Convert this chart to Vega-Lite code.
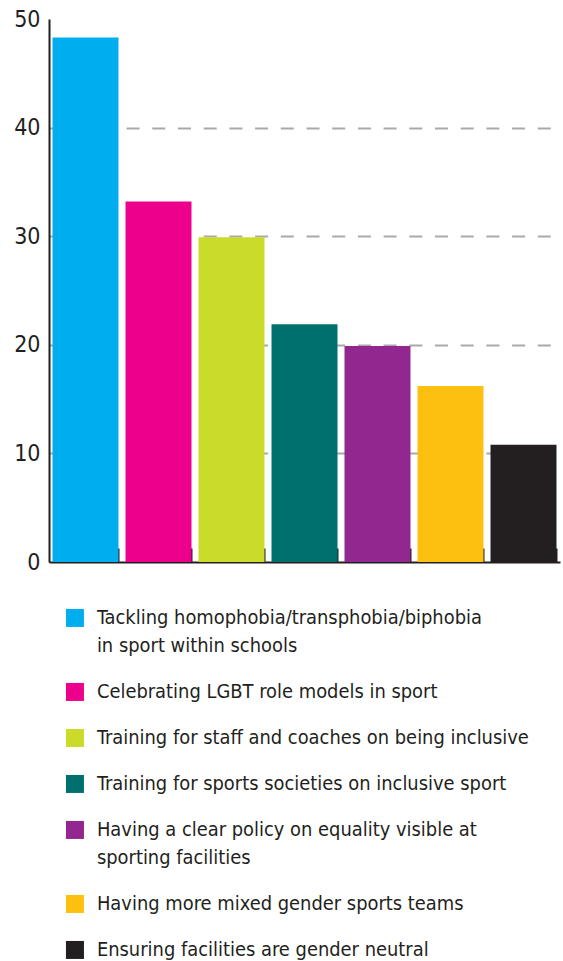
{
  "$schema": "https://vega.github.io/schema/vega-lite/v6.json",
  "autosize": {"type": "none"},
  "width": 511,
  "height": 543,
  "padding": {"left": 49, "top": 19, "right": 3, "bottom": 399},
  "background": "white",
  "config": {
    "view": {"stroke": null},
    "font": "DejaVu Sans Condensed, Liberation Sans Narrow, sans-serif",
    "style": {"guide-label": {"lineHeight": 28}}
  },
  "data": {
    "values": [
      {"category": "Tackling homophobia/transphobia/biphobia in sport within schools", "value": 48.3},
      {"category": "Celebrating LGBT role models in sport", "value": 33.2},
      {"category": "Training for staff and coaches on being inclusive", "value": 29.9},
      {"category": "Training for sports societies on inclusive sport", "value": 21.9},
      {"category": "Having a clear policy on equality visible at sporting facilities", "value": 19.9},
      {"category": "Having more mixed gender sports teams", "value": 16.2},
      {"category": "Ensuring facilities are gender neutral", "value": 10.8}
    ]
  },
  "mark": {"type": "bar"},
  "encoding": {
    "x": {
      "field": "category",
      "type": "nominal",
      "sort": null,
      "scale": {"paddingInner": 0.096, "paddingOuter": 0.048},
      "axis": {
        "title": null,
        "labels": false,
        "bandPosition": 1,
        "domainColor": "#231f20",
        "domainWidth": 2,
        "ticks": true,
        "tickSize": -14,
        "tickWidth": 2,
        "tickColor": "#231f20",
        "grid": false
      }
    },
    "y": {
      "field": "value",
      "type": "quantitative",
      "scale": {"domain": [0, 50], "nice": false},
      "axis": {
        "title": null,
        "values": [0, 10, 20, 30, 40, 50],
        "ticks": false,
        "labelPadding": 9,
        "labelFontSize": 23,
        "labelColor": "#231f20",
        "domainColor": "#231f20",
        "domainWidth": 2,
        "grid": true,
        "gridColor": "#a7a9ac",
        "gridWidth": 2,
        "gridDash": [13, 12.7],
        "gridOpacity": {"condition": {"test": "datum.value === 50 || datum.value === 0", "value": 0}, "value": 1}
      }
    },
    "color": {
      "field": "category",
      "type": "nominal",
      "sort": null,
      "scale": {
        "range": ["#00aeef", "#ec008c", "#cbdb2a", "#00706e", "#92278f", "#fdc010", "#231f20"]
      },
      "legend": {
        "title": null,
        "orient": "none",
        "legendX": 16,
        "legendY": 589,
        "direction": "vertical",
        "padding": 0,
        "symbolType": "square",
        "symbolSize": 324,
        "symbolStrokeWidth": 0,
        "symbolOpacity": 1,
        "labelFontSize": 19.9,
        "labelColor": "#231f20",
        "labelOffset": 12,
        "labelLimit": 480,
        "labelLineHeight": 28,
        "rowPadding": 25,
        "labelExpr": "datum.label == 'Tackling homophobia/transphobia/biphobia in sport within schools' ? ['Tackling homophobia/transphobia/biphobia', 'in sport within schools'] : datum.label == 'Having a clear policy on equality visible at sporting facilities' ? ['Having a clear policy on equality visible at', 'sporting facilities'] : datum.label"
      }
    }
  }
}
